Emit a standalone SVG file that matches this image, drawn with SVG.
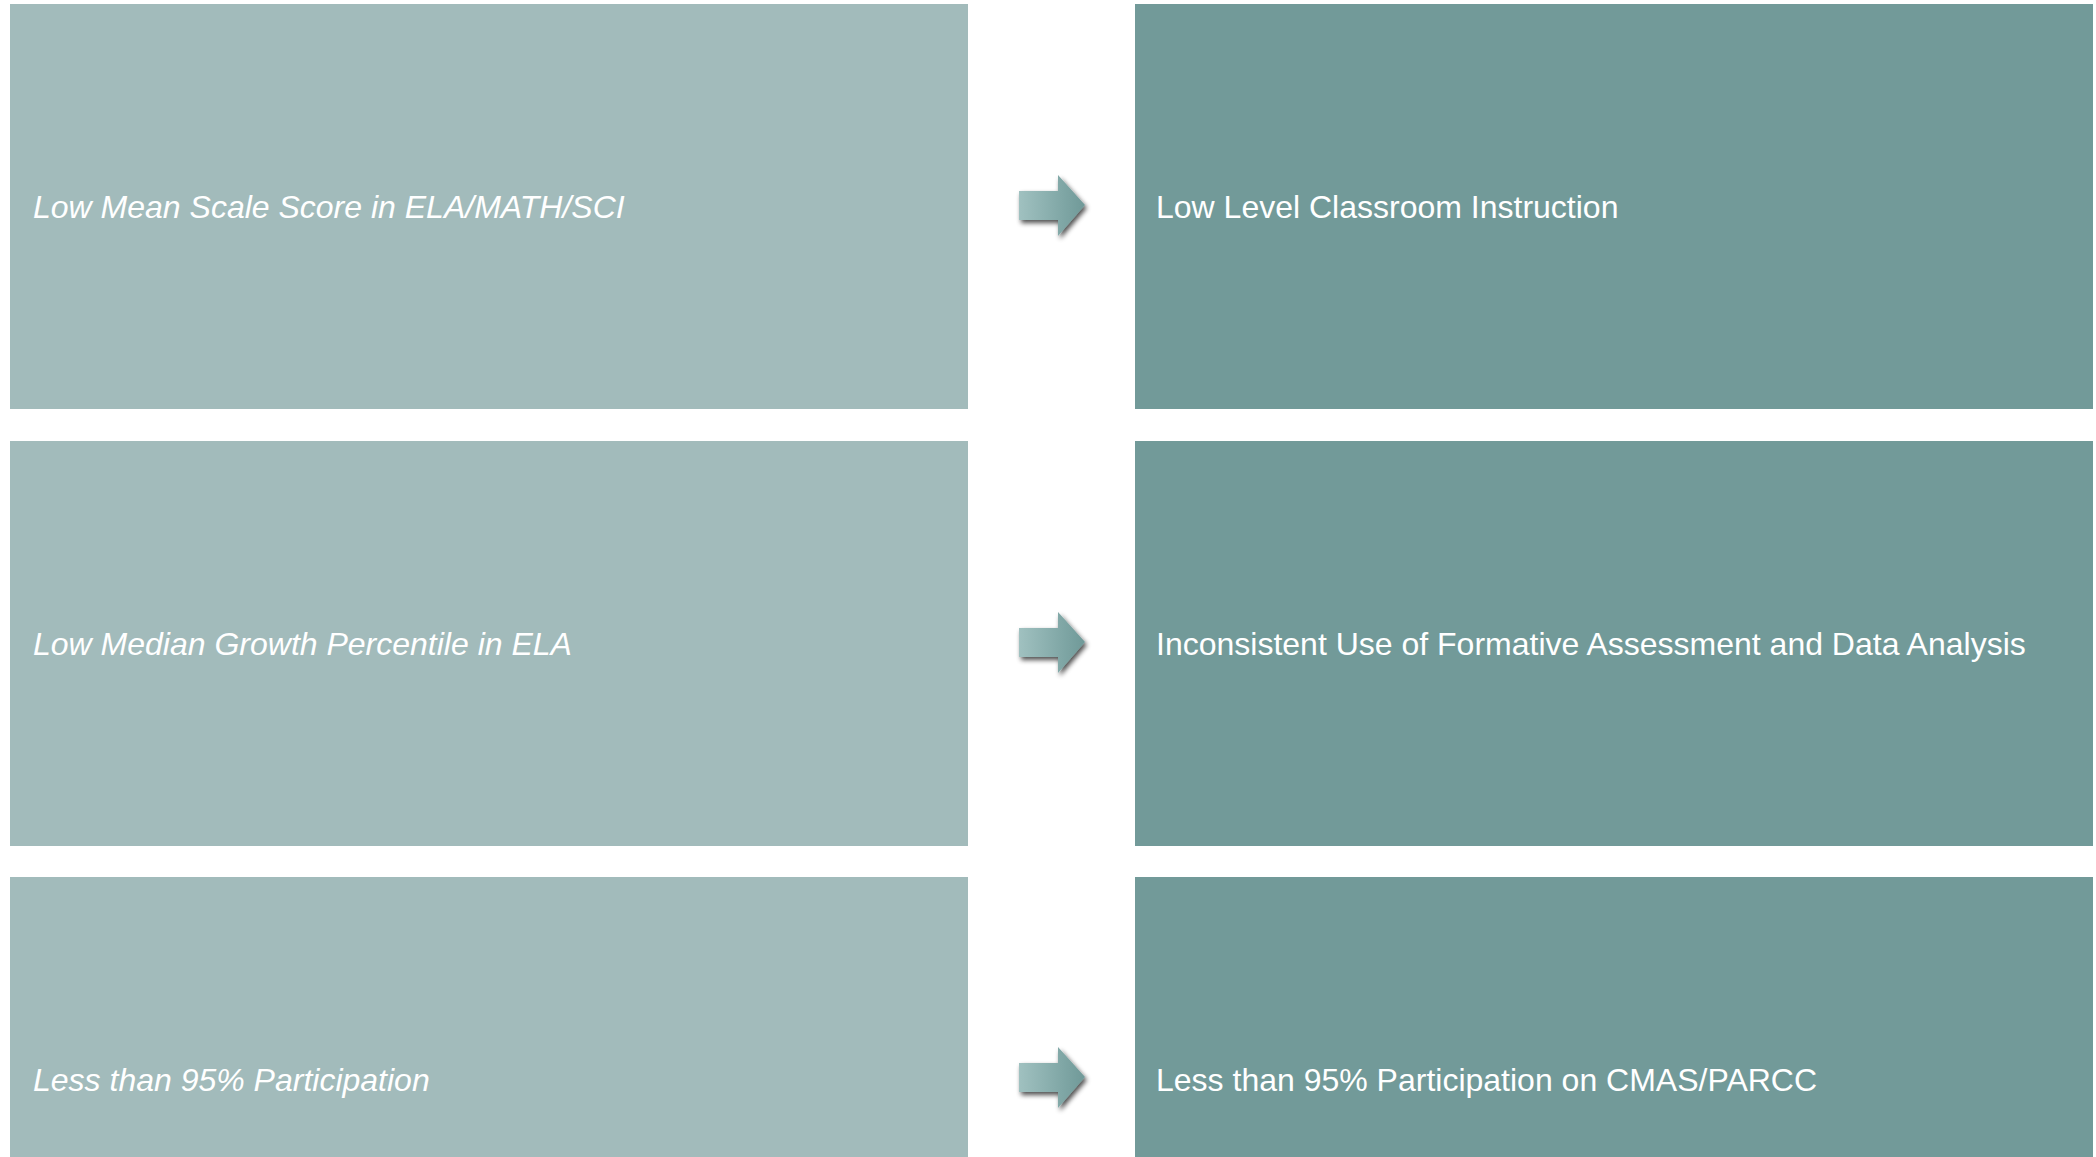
<svg xmlns="http://www.w3.org/2000/svg" width="2096" height="1157" viewBox="0 0 2096 1157">
<style>
.l{fill:#a2bbbb}
.r{fill:#729a99}
.t{font-family:"Liberation Sans",Arial,sans-serif;font-size:32px;fill:#ffffff}
.i{font-style:italic}
.arrow{fill:url(#ag);filter:url(#sh)}
</style>
<defs>
<linearGradient id="ag" x1="0" y1="0" x2="1" y2="0">
<stop offset="0" stop-color="#a0c1c0"/>
<stop offset="1" stop-color="#6f9998"/>
</linearGradient>
<filter id="sh" x="-30%" y="-30%" width="160%" height="160%">
<feGaussianBlur in="SourceAlpha" stdDeviation="2.5"/>
<feOffset dx="2" dy="3" result="b"/>
<feComponentTransfer in="b" result="c"><feFuncA type="linear" slope="0.7"/></feComponentTransfer>
<feMerge><feMergeNode in="c"/><feMergeNode in="SourceGraphic"/></feMerge>
</filter>
<path id="arr" d="M0,-15 H39 V-31 L66,-1 L39,30 V14 H0 Z"/>
</defs>
<g id="n1"><rect class="l" x="10" y="4" width="958" height="405"/><text class="t i" x="33" y="218">Low Mean Scale Score in ELA/MATH/SCI</text></g>
<g id="n2"><rect class="r" x="1135" y="4" width="958" height="405"/><text class="t" x="1156" y="218">Low Level Classroom Instruction</text></g>
<g id="n3"><rect class="l" x="10" y="441" width="958" height="405"/><text class="t i" x="33" y="655">Low Median Growth Percentile in ELA</text></g>
<g id="n4"><rect class="r" x="1135" y="441" width="958" height="405"/><text class="t" x="1156" y="655">Inconsistent Use of Formative Assessment and Data Analysis</text></g>
<g id="n5"><rect class="l" x="10" y="877" width="958" height="405"/><text class="t i" x="33" y="1091">Less than 95% Participation</text></g>
<g id="n6"><rect class="r" x="1135" y="877" width="958" height="405"/><text class="t" x="1156" y="1091">Less than 95% Participation on CMAS/PARCC</text></g>
<g id="connectors">
<use href="#arr" class="arrow" x="1019" y="206"/>
<use href="#arr" class="arrow" x="1019" y="643"/>
<use href="#arr" class="arrow" x="1019" y="1078"/>
</g>
</svg>
